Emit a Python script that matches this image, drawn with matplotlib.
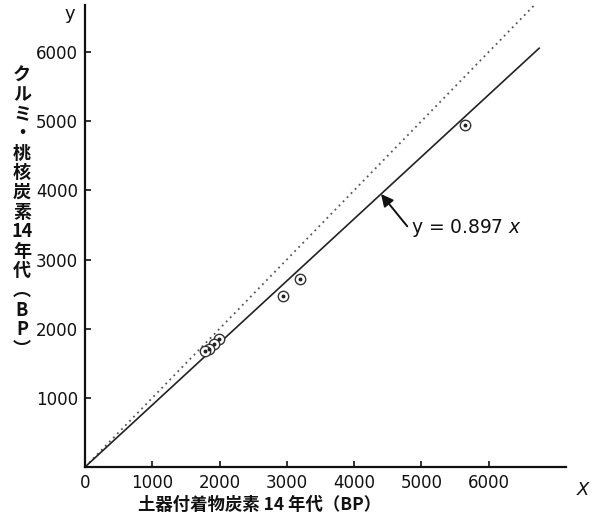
import matplotlib
matplotlib.use("Agg")
import matplotlib.pyplot as plt
import numpy as np

# ---- data ----
sample_x = [5650, 3200, 2950, 1990, 1915, 1840, 1785]   # 土器付着物炭素14年代 (BP)
sample_y = [4950, 2720, 2470, 1850, 1780, 1705, 1675]   # クルミ・桃核炭素14年代 (BP)
fit_slope = 0.897
fit_x_end = 6750
ref_x_end = 6700
x_ticks = [0, 1000, 2000, 3000, 4000, 5000, 6000]
y_ticks = [1000, 2000, 3000, 4000, 5000, 6000]
x_max = 7150
y_max = 6680
fit_label = "y = 0.897 "
ylabel_chars = ["ク", "ル", "ミ", "・", "桃", "核", "炭", "素", "14", "年", "代", "︵", "B", "P", "︶"]
xlabel_text = "土器付着物炭素 14 年代（BP）"

cjk = ["Noto Sans CJK JP", "DejaVu Sans"]

fig = plt.figure(figsize=(6.0, 5.2), dpi=100)
ax = fig.add_axes([0.1417, 0.1019, 0.8017, 0.8885])

# reference line y = x (dotted)
rx = np.array([0, ref_x_end])
ax.plot(rx, rx, linestyle=(0, (1, 2.2)), color="#555555", lw=1.3)
# fitted line
fx = np.array([0, fit_x_end])
ax.plot(fx, fit_slope * fx, color="#222222", lw=1.2)

# samples: circle with central dot
ax.plot(sample_x, sample_y, linestyle="none", marker="o", ms=7.5,
        mfc="white", mec="#333333", mew=1.0, zorder=3)
ax.plot(sample_x, sample_y, linestyle="none", marker="o", ms=1.8,
        color="#222222", zorder=4)

ax.set_xlim(0, x_max)
ax.set_ylim(0, y_max)
ax.set_xticks(x_ticks)
ax.set_yticks(y_ticks)
ax.tick_params(direction="in", length=4, width=1.2, labelsize=12, pad=5,
               colors="#111111")
for s in ["top", "right"]:
    ax.spines[s].set_visible(False)
for s in ["left", "bottom"]:
    ax.spines[s].set_linewidth(1.6)
    ax.spines[s].set_color("#111111")

# axis end letters
ax.text(-0.02, 1.0, "y", transform=ax.transAxes, ha="right", va="top",
        fontsize=13, color="#111111")
ax.text(1.035, -0.03, "X", transform=ax.transAxes, ha="center", va="top",
        fontsize=13, style="italic", color="#111111")

# annotation arrow
ax_x = 4400
ax.annotate("", xy=(ax_x, fit_slope * ax_x), xytext=(4790, 3480),
            arrowprops=dict(arrowstyle="-|>", color="#111111", lw=1.4,
                            mutation_scale=18, shrinkA=0, shrinkB=0))
ax.text(4850, 3450, fit_label + "$x$", fontsize=13.5, ha="left", va="center",
        color="#111111")

# axis titles
fig.text(260 / 600, 1 - 505 / 520, xlabel_text, family=cjk, fontsize=12.5,
         ha="center", va="center", fontweight="bold", color="#111111")
fig.text(22 / 600, 1 - 212 / 520, "\n".join(ylabel_chars), family=cjk,
         fontsize=13, ha="center", va="center", multialignment="center",
         linespacing=1.04, fontweight="bold", color="#111111")

fig.savefig("out.png", dpi=100)
